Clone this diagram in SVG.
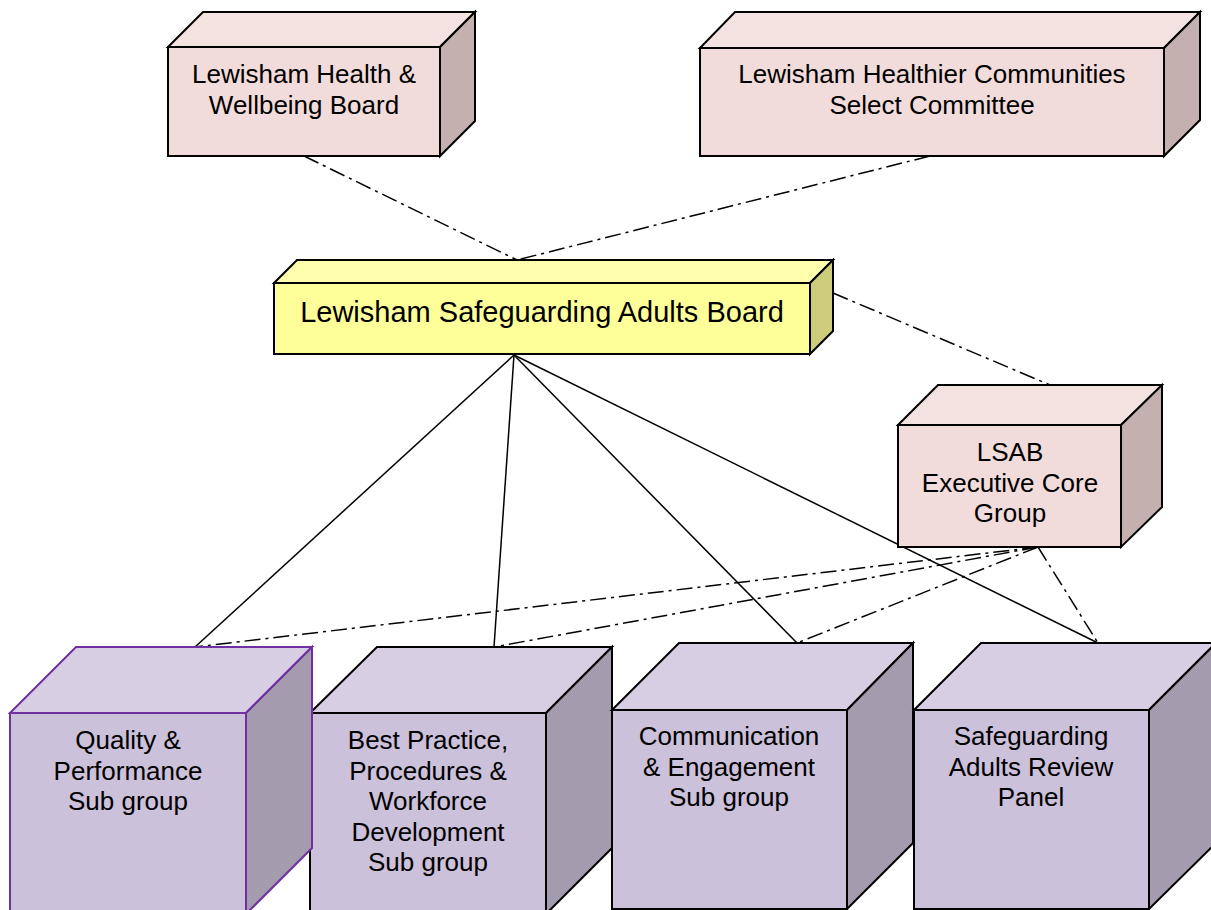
<svg xmlns="http://www.w3.org/2000/svg" width="1211" height="910" viewBox="0 0 1211 910">
<style>
.t{font-family:"Liberation Sans",Arial,sans-serif;font-size:26px;fill:#000;text-anchor:middle}
.big{font-size:29px}
.pf{fill:#F2DCDB}.pt{fill:#F4E2E1}.pr{fill:#C3B0AF}
.yf{fill:#FFFF99}.yt{fill:#FFFFAD}.yr{fill:#CCCC7A}
.uf{fill:#CCC1DA}.ut{fill:#D7CEE3}.ur{fill:#A49BAF}
.e{stroke:#000;stroke-width:2;stroke-linejoin:miter}
.ep{stroke:#7030A0;stroke-width:2;stroke-linejoin:miter}
.dd{fill:none;stroke:#000;stroke-width:1.5;stroke-dasharray:16 5 3 5}
.sl{fill:none;stroke:#000;stroke-width:1.5}
</style>
<rect width="1211" height="910" fill="#fff"/>
<g id="connectors">
<line class="dd" x1="304" y1="156" x2="517" y2="260"/>
<line class="dd" x1="930" y1="156" x2="517" y2="260"/>
<line class="dd" x1="833" y1="293" x2="1050" y2="385"/>
<line class="sl" x1="514" y1="355" x2="195" y2="647"/>
<line class="sl" x1="514" y1="355" x2="494" y2="647"/>
<line class="sl" x1="514" y1="355" x2="797" y2="643"/>
<line class="sl" x1="514" y1="355" x2="1098" y2="643"/>
<line class="dd" x1="1038" y1="547" x2="195" y2="647"/>
<line class="dd" x1="1038" y1="547" x2="494" y2="647"/>
<line class="dd" x1="1038" y1="547" x2="797" y2="643"/>
<line class="dd" x1="1038" y1="547" x2="1098" y2="643"/>
</g>
<g id="node-health-wellbeing">
<polygon class="pt e" points="168,47 203,12 475,12 440,47"/>
<polygon class="pr e" points="440,47 475,12 475,121 440,156"/>
<rect class="pf e" x="168" y="47" width="272" height="109"/>
<text class="t" x="304" y="83">Lewisham Health &amp;</text>
<text class="t" x="304" y="114">Wellbeing Board</text>
</g>
<g id="node-healthier-communities">
<polygon class="pt e" points="700,48 735,12 1200,12 1164,48"/>
<polygon class="pr e" points="1164,48 1200,12 1200,120 1164,156"/>
<rect class="pf e" x="700" y="48" width="464" height="108"/>
<text class="t" x="932" y="83">Lewisham Healthier Communities</text>
<text class="t" x="932" y="114">Select Committee</text>
</g>
<g id="node-lsab">
<polygon class="yt e" points="274,283 297,260 833,260 810,283"/>
<polygon class="yr e" points="810,283 833,260 833,331 810,354"/>
<rect class="yf e" x="274" y="283" width="536" height="71"/>
<text class="t big" x="542" y="322">Lewisham Safeguarding Adults Board</text>
</g>
<g id="node-executive">
<polygon class="pt e" points="898,425 938,385 1162,385 1121,425"/>
<polygon class="pr e" points="1121,425 1162,385 1162,507 1121,547"/>
<rect class="pf e" x="898" y="425" width="223" height="122"/>
<text class="t" x="1010" y="461">LSAB</text>
<text class="t" x="1010" y="492">Executive Core</text>
<text class="t" x="1010" y="522">Group</text>
</g>
<g id="node-best-practice">
<polygon class="ut e" points="310,713 377,647 612,647 546,713"/>
<polygon class="ur e" points="546,713 612,647 612,848 546,914"/>
<rect class="uf e" x="310" y="713" width="236" height="205"/>
<text class="t" x="428" y="749">Best Practice,</text>
<text class="t" x="428" y="780">Procedures &amp;</text>
<text class="t" x="428" y="810">Workforce</text>
<text class="t" x="428" y="841">Development</text>
<text class="t" x="428" y="871">Sub group</text>
</g>
<g id="node-quality">
<polygon class="ut ep" points="10,713 76,647 312,647 246,713"/>
<polygon class="ur ep" points="246,713 312,647 312,848 246,914"/>
<rect class="uf ep" x="10" y="713" width="236" height="205"/>
<text class="t" x="128" y="749">Quality &amp;</text>
<text class="t" x="128" y="780">Performance</text>
<text class="t" x="128" y="810">Sub group</text>
</g>
<g id="node-communication">
<polygon class="ut e" points="612,710 679,643 913,643 847,710"/>
<polygon class="ur e" points="847,710 913,643 913,843 847,909"/>
<rect class="uf e" x="612" y="710" width="235" height="199"/>
<text class="t" x="729" y="745">Communication</text>
<text class="t" x="729" y="776">&amp; Engagement</text>
<text class="t" x="729" y="806">Sub group</text>
</g>
<g id="node-review-panel">
<polygon class="ut e" points="914,710 981,643 1216,643 1149,710"/>
<polygon class="ur e" points="1149,710 1216,643 1216,843 1149,909"/>
<rect class="uf e" x="914" y="710" width="235" height="199"/>
<text class="t" x="1031" y="745">Safeguarding</text>
<text class="t" x="1031" y="776">Adults Review</text>
<text class="t" x="1031" y="806">Panel</text>
</g>
</svg>
